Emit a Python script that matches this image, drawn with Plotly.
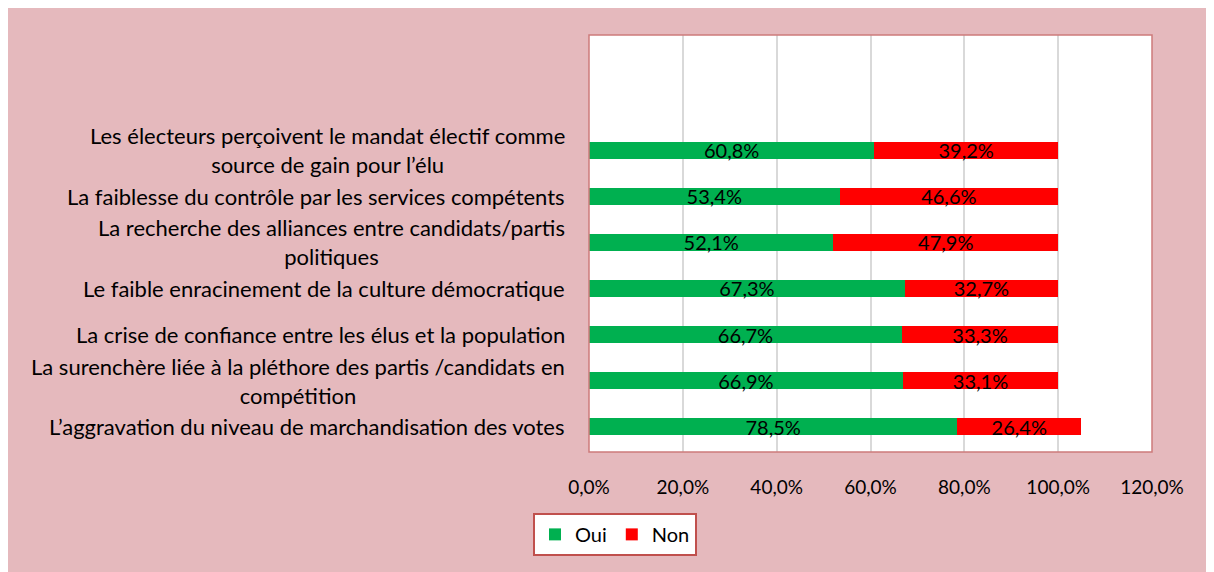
import plotly.graph_objects as go

categories = [
    "Les électeurs perçoivent le mandat électif comme<br>source de gain pour l’élu",
    "La faiblesse du contrôle par les services compétents",
    "La recherche des alliances entre candidats/partis<br>politiques",
    "Le faible enracinement de la culture démocratique",
    "La crise de confiance entre les élus et la population",
    "La surenchère liée à la pléthore des partis /candidats en<br>compétition",
    "L’aggravation du niveau de marchandisation des votes",
]
oui = [60.8, 53.4, 52.1, 67.3, 66.7, 66.9, 78.5]
non = [39.2, 46.6, 47.9, 32.7, 33.3, 33.1, 26.4]
x_ticks = [0, 20, 40, 60, 80, 100, 120]
x_tick_text = [f"{v:.1f}%".replace(".", ",") for v in x_ticks]

FONT = "Lato"
PINK = "#e5b9bd"
GREEN = "#00B050"
RED = "#FF0000"

fig = go.Figure()
for name, vals, col in [("Oui", oui, GREEN), ("Non", non, RED)]:
    fig.add_trace(go.Bar(
        y=categories, x=vals, name=name, orientation="h",
        marker=dict(color=col, line=dict(width=0)),
        width=0.37,
        text=vals, texttemplate="%{x:.1f}%",
        textposition="inside", insidetextanchor="middle",
        textfont=dict(family=FONT, size=20, color="black"),
        hoverinfo="skip",
    ))

annotations = []
for c in categories:
    annotations.append(dict(
        x=-0.039, xref="paper", y=c, yref="y",
        text=c, showarrow=False, xanchor="right", yanchor="middle",
        align="center", font=dict(family=FONT, size=22, color="black"),
    ))

fig.update_layout(
    barmode="stack",
    width=1214, height=572,
    margin=dict(l=581, r=70, t=27, b=128, autoexpand=False),
    paper_bgcolor=PINK,
    plot_bgcolor="white",
    separators=", ",
    font=dict(family=FONT, size=18, color="black"),
    uniformtext=dict(minsize=20, mode="show"),
    xaxis=dict(
        range=[0, 120], tickmode="array", tickvals=x_ticks, ticktext=x_tick_text,
        showgrid=True, gridcolor="#d9d9d9", gridwidth=2, zeroline=False,
        showline=False, ticks="", ticklabelstandoff=22,
        tickfont=dict(family=FONT, size=19, color="black"),
        fixedrange=True,
    ),
    yaxis=dict(
        type="category", range=[6.55, -2.5], showticklabels=False,
        showgrid=False, zeroline=False, showline=False, ticks="",
    ),
    legend=dict(
        orientation="h", x=-0.0995, y=-0.146, xanchor="left", yanchor="top",
        bgcolor="white", bordercolor="#c0504d", borderwidth=2,
        font=dict(family=FONT, size=20, color="black"),
        traceorder="normal",
    ),
    annotations=annotations,
    shapes=[
        dict(type="rect", xref="paper", yref="paper", x0=0, x1=1, y0=0, y1=1,
             line=dict(color="#cd7b7b", width=1.5), layer="above"),
    ],
    showlegend=True,
)

fig.write_html("out.html")
